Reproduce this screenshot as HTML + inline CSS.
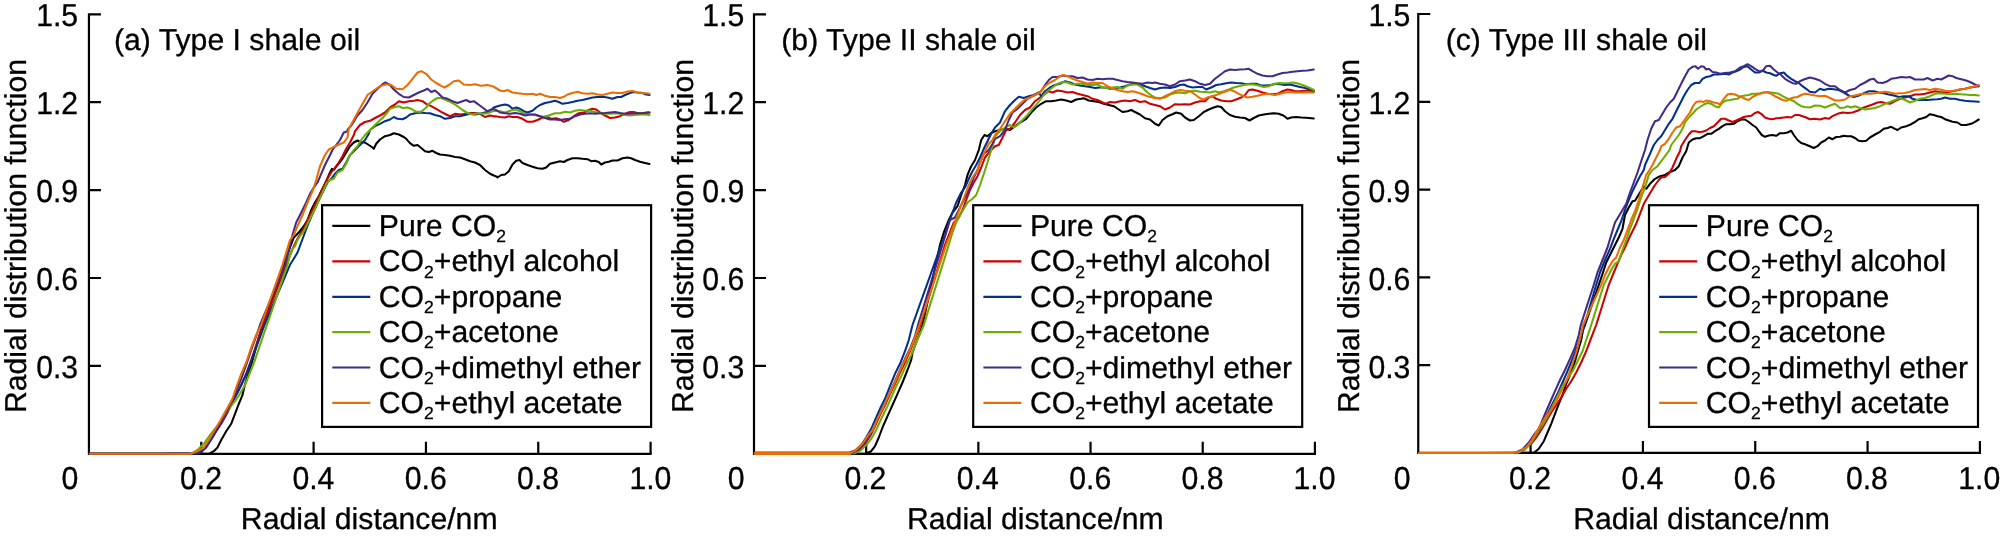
<!DOCTYPE html>
<html><head><meta charset="utf-8"><title>Radial distribution functions</title>
<style>html,body{margin:0;padding:0;background:#fff}svg{display:block;will-change:transform}text{font-family:"Liberation Sans",sans-serif;font-size:30.2px;fill:#000;stroke:#000;stroke-width:.3px;text-rendering:geometricPrecision}.ax{fill:none;stroke:#000;stroke-width:2.20}.cv{fill:none;stroke-width:2.05;stroke-linejoin:round;stroke-linecap:round}.lg{fill:#fff;stroke:#000;stroke-width:2.2}.sb{font-size:17.5px}</style></head><body>
<svg width="2000" height="539" viewBox="0 0 2000 539">
<rect width="2000" height="539" fill="#fff"/>
<g>
<path class="ax" d="M100.95 14.30 H88.95 V453.80 H651.70"/>
<path class="ax" d="M88.95 365.90 h12M88.95 278.00 h12M88.95 190.10 h12M88.95 102.20 h12M201.28 453.80 v-12M313.61 453.80 v-12M425.94 453.80 v-12M538.27 453.80 v-12M650.60 453.80 v-12"/>
<path class="cv" stroke="#000000" d="M89.8 453.8 160.0 453.8 208.8 453.8 213.8 451.2 217.5 447.5 221.2 440.0 226.2 431.2 231.2 423.8 235.0 413.8 238.8 403.8 242.5 395.0 244.5 386.2 247.5 376.2 251.2 365.0 255.0 351.2 258.8 337.5 262.5 325.0 290.0 247.5 293.8 237.5 298.8 232.5 303.8 226.2 307.5 220.0 311.2 210.0 315.0 202.5 318.8 196.2 322.5 188.8 326.2 181.2 330.0 172.5 332.0 168.8 333.8 170.0 337.5 165.0 342.5 158.8 346.2 152.5 350.0 146.2 353.8 142.5 357.5 140.5 361.2 142.5 365.0 142.5 368.8 145.0 372.5 147.5 373.8 148.8 376.2 143.8 380.0 139.5 385.0 136.2 390.0 135.0 393.8 133.2 398.8 134.5 403.8 137.0 406.2 138.8 410.0 143.2 413.8 145.8 417.5 145.0 421.2 148.0 425.0 151.2 428.8 152.0 432.5 150.8 436.2 153.0 440.0 154.5 445.0 155.0 450.0 155.8 455.0 157.0 460.0 157.5 465.0 159.2 470.0 161.2 475.0 162.5 480.0 165.0 485.0 170.0 490.0 173.8 493.8 175.5 497.5 177.0 497.5 177.5 501.2 175.0 505.0 174.5 508.8 171.2 512.5 164.5 516.2 160.8 519.5 160.0 522.5 163.0 527.5 165.0 532.5 166.8 537.5 168.2 542.5 168.8 546.2 167.5 550.0 163.8 555.0 162.5 560.0 161.2 563.8 162.0 567.5 160.0 572.5 158.2 577.5 158.2 582.5 158.8 587.5 159.2 591.2 161.2 595.0 160.8 598.8 162.0 601.2 164.5 605.0 162.5 608.8 161.8 612.5 160.5 617.5 160.5 622.5 158.2 627.5 157.5 631.2 158.2 635.0 160.0 640.0 161.8 645.0 163.0 649.5 164.0"/>
<path class="cv" stroke="#cc0000" d="M89.8 453.8 160.0 453.8 192.5 453.8 197.5 453.0 205.0 447.5 211.2 438.8 216.2 431.2 221.2 423.8 226.2 415.0 231.2 405.0 236.2 395.0 241.2 385.0 246.2 373.8 251.2 360.0 256.2 345.0 260.0 333.8 263.2 325.0 286.2 264.8 290.0 255.0 293.8 246.2 297.5 238.8 301.2 232.5 305.0 226.2 308.8 217.5 312.5 210.0 316.2 202.5 320.0 193.8 323.8 186.2 327.5 178.8 331.2 172.5 335.0 167.5 338.8 162.5 342.5 156.2 346.2 148.8 350.0 142.5 353.8 135.0 355.0 131.2 360.0 125.0 365.0 122.0 370.0 120.8 375.0 118.0 380.0 115.5 385.0 112.5 390.0 107.5 395.0 104.5 398.8 101.2 403.8 102.5 408.8 101.2 413.8 100.8 417.5 100.0 422.5 101.2 426.2 103.8 431.2 106.2 436.2 108.8 441.2 111.8 446.2 114.5 450.0 116.2 455.0 113.8 460.0 114.5 466.2 113.8 471.2 113.0 476.2 113.0 480.0 113.8 485.0 117.0 490.0 115.5 495.0 116.5 495.0 116.2 500.0 117.0 505.0 117.5 508.8 116.2 512.5 117.0 517.5 117.0 522.5 118.8 527.5 121.8 532.5 121.8 537.5 120.0 542.5 117.5 546.2 116.2 551.2 118.8 556.2 118.2 560.0 119.5 563.8 121.8 568.8 120.0 573.8 116.2 578.8 113.2 583.8 112.5 588.8 110.0 592.5 108.8 596.2 109.5 600.0 112.5 605.0 115.5 610.0 118.0 615.0 117.5 620.0 116.2 625.0 113.8 630.0 112.0 633.8 112.0 637.5 113.2 642.5 113.2 646.2 112.5 649.5 112.5"/>
<path class="cv" stroke="#00308c" d="M89.8 453.8 160.0 453.8 195.0 453.8 200.0 453.0 206.2 447.5 212.5 437.5 217.5 428.8 222.5 420.0 227.5 411.2 232.5 401.2 237.5 392.5 242.5 382.5 247.5 371.2 252.5 357.5 257.5 343.8 261.2 333.8 264.5 325.0 290.0 264.8 293.8 258.8 297.5 252.5 301.2 242.5 305.0 232.5 308.8 222.5 312.5 213.8 316.2 206.2 320.0 197.5 323.8 190.0 327.5 182.5 331.2 178.8 335.0 173.8 338.8 170.0 342.5 168.8 346.2 162.5 350.0 155.0 353.8 151.2 357.5 147.5 361.2 143.8 365.0 140.0 368.8 133.8 370.0 130.0 375.0 126.2 380.0 123.8 385.0 121.2 390.0 119.5 393.8 117.0 397.5 118.8 402.5 119.2 406.2 117.5 410.0 114.5 415.0 113.2 420.0 112.5 425.0 113.0 430.0 113.2 435.0 115.0 440.0 116.2 445.0 118.8 450.0 118.0 455.0 116.2 460.0 116.2 465.0 115.0 470.0 113.8 475.0 114.5 480.0 113.8 485.0 112.5 490.0 111.2 493.8 107.5 497.5 106.2 500.0 105.5 505.0 104.5 508.8 105.5 512.5 108.8 516.2 107.5 520.0 108.8 523.8 111.2 527.5 112.5 532.5 110.8 536.2 107.5 540.0 105.0 545.0 103.0 550.0 102.0 555.0 100.8 558.8 102.0 562.5 103.8 567.5 103.0 572.5 102.0 577.5 100.8 582.5 100.0 587.5 98.8 592.5 97.5 597.5 97.0 602.5 96.8 607.5 97.5 612.5 98.8 617.5 97.0 621.2 97.0 625.0 95.0 630.0 93.0 633.8 92.0 637.5 92.5 642.5 93.0 646.2 94.5 649.5 95.0"/>
<path class="cv" stroke="#6aae00" d="M89.8 453.8 160.0 453.8 191.2 453.8 197.5 450.0 203.8 443.8 210.0 435.0 216.2 427.5 222.5 418.8 228.8 408.8 235.0 401.2 240.0 393.8 245.0 385.0 250.0 372.5 255.0 360.0 260.0 345.0 263.8 333.8 267.0 325.0 287.5 264.8 290.0 255.0 292.5 248.8 295.0 246.2 297.5 240.0 300.0 236.2 303.8 231.2 307.5 223.8 311.2 216.2 315.0 208.8 318.8 200.0 322.5 192.5 326.2 183.8 330.0 180.0 333.8 178.8 337.5 172.5 342.5 170.0 346.2 163.8 350.0 155.0 353.8 150.0 357.5 146.2 361.2 140.0 365.0 135.0 368.8 131.2 372.5 127.5 377.5 122.5 382.5 118.0 386.2 113.8 390.0 108.8 395.0 107.0 398.8 106.2 402.5 108.0 407.5 107.5 411.2 108.8 416.2 111.8 421.2 111.8 426.2 107.5 430.0 103.0 433.8 100.0 437.5 98.0 441.2 98.0 445.0 99.5 448.8 101.2 452.5 103.0 457.5 106.2 462.5 110.0 467.5 113.0 472.5 114.5 477.5 113.2 482.5 113.8 487.5 113.2 492.5 111.2 496.2 110.8 500.0 111.2 505.0 112.5 510.0 110.8 515.0 109.5 520.0 111.2 525.0 113.8 530.0 114.5 535.0 115.0 540.0 116.2 545.0 117.0 550.0 115.0 555.0 113.2 560.0 113.2 565.0 111.8 570.0 112.5 575.0 110.8 580.0 110.0 585.0 110.8 590.0 110.8 595.0 112.0 600.0 113.2 605.0 113.8 610.0 113.8 615.0 113.2 620.0 113.8 625.0 115.0 630.0 115.5 635.0 115.0 640.0 114.5 645.0 114.5 649.5 115.0"/>
<path class="cv" stroke="#432a86" d="M89.8 453.8 160.0 453.8 177.5 453.2 192.5 453.2 200.0 451.2 206.2 446.2 211.2 437.5 216.2 430.0 221.2 421.2 226.2 412.5 231.2 402.5 236.2 391.2 241.2 378.8 246.2 365.0 251.2 350.0 256.2 336.2 260.0 325.0 285.0 264.8 288.8 250.0 292.5 235.0 296.2 222.5 298.8 217.5 302.5 210.0 306.2 202.5 310.0 193.8 313.8 187.5 317.5 182.5 321.2 173.8 325.0 165.0 328.8 157.5 332.5 150.0 336.2 145.0 340.0 140.0 343.8 132.5 347.5 131.2 347.5 130.0 352.5 123.8 357.5 115.5 362.5 110.0 367.5 102.5 372.5 93.8 377.5 88.8 382.5 84.2 385.5 82.5 390.0 85.0 393.8 89.5 398.8 93.8 403.8 97.0 408.8 97.5 413.8 95.0 418.8 92.5 423.8 90.5 427.5 88.8 431.2 92.0 435.0 90.5 438.8 93.8 442.5 97.5 447.5 98.8 452.5 101.2 457.5 103.0 462.5 101.2 466.2 100.0 470.0 102.0 473.8 101.2 477.5 103.8 482.5 107.5 487.5 111.2 492.5 108.8 496.2 110.0 500.0 112.5 505.0 113.2 510.0 113.8 515.0 113.0 520.0 113.8 525.0 115.5 530.0 114.5 535.0 114.5 540.0 116.2 545.0 118.0 550.0 119.5 555.0 119.5 560.0 120.0 565.0 119.2 570.0 118.8 575.0 116.2 580.0 114.5 585.0 113.8 590.0 113.2 595.0 113.8 600.0 113.2 605.0 113.0 610.0 112.5 615.0 112.0 620.0 113.0 625.0 113.8 630.0 113.8 635.0 113.2 640.0 113.2 645.0 113.0 649.5 112.5"/>
<path class="cv" stroke="#eb6c00" d="M89.8 453.8 160.0 453.8 190.0 453.8 197.5 451.2 203.8 447.5 208.8 440.0 213.8 431.2 220.0 421.2 226.2 410.0 232.5 398.8 236.2 387.5 241.2 373.8 246.2 362.5 251.2 347.5 256.2 335.0 261.2 325.0 282.5 264.8 286.2 252.5 290.0 240.0 293.8 235.0 297.5 226.2 302.5 215.0 307.5 202.5 312.5 191.2 316.2 180.0 320.0 166.2 325.0 155.0 328.8 149.5 333.8 147.0 338.8 144.5 343.8 142.5 347.5 137.5 348.8 128.8 355.0 117.5 361.2 106.2 367.5 95.0 373.8 90.5 380.0 86.2 386.2 84.2 391.2 85.0 396.2 88.8 402.5 89.2 407.5 85.0 412.5 78.8 417.5 72.5 421.2 71.2 426.2 73.8 431.2 79.5 436.2 83.0 441.2 85.8 444.5 87.5 448.8 85.0 453.8 81.2 458.8 80.5 463.8 84.5 470.0 85.0 475.0 84.2 481.2 85.8 487.5 85.0 492.5 86.2 495.0 87.5 500.0 90.5 503.8 91.2 507.5 90.0 512.5 92.5 517.5 93.2 522.5 93.8 527.5 94.2 532.5 93.8 536.2 95.0 540.0 93.8 545.0 95.8 550.0 97.0 555.0 97.0 560.0 98.0 563.8 96.8 567.5 94.5 572.5 93.0 577.5 91.8 582.5 93.2 587.5 93.8 592.5 93.2 597.5 94.5 602.5 95.0 607.5 93.8 612.5 92.5 617.5 93.0 622.5 93.0 627.5 91.5 632.5 91.0 637.5 92.5 642.5 93.0 646.2 93.2 649.5 93.8"/>
<text transform="translate(78.1,377.5) scale(1,1.05)" text-anchor="end">0.3</text>
<text transform="translate(78.1,289.6) scale(1,1.05)" text-anchor="end">0.6</text>
<text transform="translate(78.1,201.7) scale(1,1.05)" text-anchor="end">0.9</text>
<text transform="translate(78.1,113.8) scale(1,1.05)" text-anchor="end">1.2</text>
<text transform="translate(78.1,25.9) scale(1,1.05)" text-anchor="end">1.5</text>
<text transform="translate(69.9,489.0) scale(1,1.05)" text-anchor="middle">0</text>
<text transform="translate(201.0,489.0) scale(1,1.05)" text-anchor="middle">0.2</text>
<text transform="translate(313.4,489.0) scale(1,1.05)" text-anchor="middle">0.4</text>
<text transform="translate(425.7,489.0) scale(1,1.05)" text-anchor="middle">0.6</text>
<text transform="translate(538.1,489.0) scale(1,1.05)" text-anchor="middle">0.8</text>
<text transform="translate(650.4,489.0) scale(1,1.05)" text-anchor="middle">1.0</text>
<text x="369.2" y="529.0" text-anchor="middle">Radial distance/nm</text>
<text transform="translate(26.3,236.0) rotate(-90)" text-anchor="middle">Radial distribution function</text>
<text x="114.0" y="49.6">(a) Type I shale oil</text>
<rect class="lg" x="322.1" y="205.2" width="329.0" height="221.7"/>
<path d="M332.3 225.9 h38" stroke="#000000" stroke-width="2.2"/>
<text x="378.8" y="235.9">Pure CO<tspan class="sb" dy="6.3">2</tspan><tspan dy="-6.3"></tspan></text>
<path d="M332.3 261.3 h38" stroke="#cc0000" stroke-width="2.2"/>
<text x="378.8" y="271.3">CO<tspan class="sb" dy="6.3">2</tspan><tspan dy="-6.3">+ethyl alcohol</tspan></text>
<path d="M332.3 296.8 h38" stroke="#00308c" stroke-width="2.2"/>
<text x="378.8" y="306.8">CO<tspan class="sb" dy="6.3">2</tspan><tspan dy="-6.3">+propane</tspan></text>
<path d="M332.3 332.1 h38" stroke="#6aae00" stroke-width="2.2"/>
<text x="378.8" y="342.1">CO<tspan class="sb" dy="6.3">2</tspan><tspan dy="-6.3">+acetone</tspan></text>
<path d="M332.3 367.5 h38" stroke="#432a86" stroke-width="2.2"/>
<text x="378.8" y="377.5">CO<tspan class="sb" dy="6.3">2</tspan><tspan dy="-6.3">+dimethyl ether</tspan></text>
<path d="M332.3 402.9 h38" stroke="#eb6c00" stroke-width="2.2"/>
<text x="378.8" y="412.9">CO<tspan class="sb" dy="6.3">2</tspan><tspan dy="-6.3">+ethyl acetate</tspan></text>
</g>
<g>
<path class="ax" d="M766.00 14.30 H754.00 V453.80 H1316.00"/>
<path class="ax" d="M754.00 365.90 h12M754.00 278.00 h12M754.00 190.10 h12M754.00 102.20 h12M866.18 453.80 v-12M978.36 453.80 v-12M1090.54 453.80 v-12M1202.72 453.80 v-12M1314.90 453.80 v-12"/>
<path class="cv" stroke="#000000" d="M754.8 453.8 825.0 453.8 866.2 453.5 871.2 451.2 875.0 446.2 878.8 437.5 882.5 427.5 887.5 416.2 892.5 405.0 897.5 393.8 902.5 382.5 907.5 370.0 911.2 360.0 912.5 352.5 916.2 342.5 920.0 332.5 922.5 325.0 940.0 244.8 943.8 232.5 948.8 220.0 952.5 212.5 957.5 206.2 961.2 195.0 965.0 185.0 967.5 175.0 971.2 166.2 975.0 160.0 978.8 150.0 981.2 140.0 984.5 135.0 987.5 136.2 991.2 133.0 995.0 131.2 1000.0 130.0 1005.0 128.8 1010.0 130.0 1015.0 126.2 1020.0 122.5 1026.2 118.8 1031.2 112.5 1036.2 107.5 1041.2 103.8 1046.2 101.2 1051.2 101.2 1056.2 100.5 1061.2 99.5 1066.2 100.5 1071.2 102.0 1076.2 99.5 1081.2 98.8 1083.8 98.2 1088.8 100.5 1093.8 101.2 1098.8 102.0 1103.8 103.8 1108.8 105.0 1113.8 106.2 1118.8 109.5 1122.5 112.0 1127.5 111.2 1131.2 110.0 1135.0 112.0 1140.0 114.5 1145.0 118.2 1150.0 119.5 1155.0 123.8 1155.0 123.8 1158.8 125.5 1162.5 120.0 1167.5 116.2 1172.5 114.2 1176.2 112.5 1181.2 113.8 1185.0 117.5 1190.0 120.5 1193.8 120.0 1198.8 116.2 1203.8 112.0 1208.8 109.5 1213.8 107.5 1217.5 106.2 1221.2 107.0 1225.0 111.2 1230.0 115.0 1235.0 116.8 1240.0 117.5 1245.0 118.0 1249.5 120.5 1253.8 118.0 1258.8 115.5 1263.8 114.5 1268.8 113.8 1273.8 113.2 1278.8 113.8 1283.8 115.8 1287.5 118.8 1291.2 117.5 1296.2 117.0 1301.2 117.5 1306.2 117.8 1313.8 118.5"/>
<path class="cv" stroke="#cc0000" d="M754.8 453.8 825.0 453.2 852.5 452.8 860.0 448.8 865.0 443.8 870.0 436.2 875.0 426.2 880.0 415.0 885.0 405.0 890.0 393.8 895.0 383.8 900.0 372.5 905.0 362.5 910.0 351.2 915.0 338.8 918.8 328.8 920.5 325.0 945.0 244.8 948.8 235.0 953.8 222.5 958.8 217.5 962.5 210.0 966.2 200.0 970.0 190.0 973.8 182.5 977.5 176.2 981.2 167.5 985.0 157.5 990.0 151.2 993.8 147.5 995.0 146.2 998.8 145.0 1002.5 137.5 1006.2 130.0 1010.0 128.8 1015.0 122.5 1020.0 115.0 1025.0 110.0 1030.0 107.5 1035.0 101.2 1040.0 97.5 1045.0 93.8 1048.8 91.2 1052.5 92.5 1057.5 90.5 1062.5 91.2 1067.5 92.5 1072.5 92.0 1077.5 93.8 1082.5 95.0 1087.5 96.2 1092.5 98.8 1097.5 100.0 1102.5 102.5 1106.2 103.8 1110.0 102.0 1115.0 102.5 1120.0 101.2 1125.0 100.5 1130.0 101.2 1135.0 100.0 1140.0 102.0 1145.0 101.2 1150.0 103.8 1155.0 105.0 1155.0 105.0 1160.0 106.2 1165.0 109.5 1170.0 107.5 1175.0 104.2 1180.0 104.5 1185.0 104.2 1190.0 104.5 1195.0 102.5 1200.0 101.2 1205.0 101.2 1208.8 97.5 1212.5 96.2 1216.2 98.8 1221.2 100.5 1226.2 101.2 1231.2 101.2 1236.2 99.5 1241.2 97.5 1245.0 95.0 1248.8 90.0 1252.5 89.5 1257.5 90.8 1262.5 92.5 1267.5 93.8 1272.5 94.2 1277.5 93.8 1282.5 91.2 1287.5 89.5 1291.2 90.0 1295.0 91.2 1300.0 91.2 1305.0 90.8 1310.0 90.8 1313.8 91.2"/>
<path class="cv" stroke="#00308c" d="M754.8 453.8 825.0 453.5 848.8 452.8 855.0 450.5 861.2 445.0 866.2 437.5 871.2 428.8 876.2 417.5 880.0 408.8 885.0 398.8 890.0 386.2 895.0 373.8 900.0 363.8 905.0 351.2 908.8 340.0 912.5 325.0 941.2 244.8 945.0 235.0 948.8 222.5 952.5 212.5 956.2 202.5 961.2 192.5 965.0 187.5 968.8 178.8 972.5 171.2 976.2 165.0 980.0 157.5 983.8 148.8 987.5 141.2 991.2 133.8 995.0 127.5 1000.0 122.5 1005.0 111.2 1010.0 105.0 1015.0 100.0 1018.8 96.8 1023.8 98.0 1028.8 96.2 1033.8 95.0 1038.8 92.5 1041.2 96.2 1045.0 91.2 1050.0 87.5 1055.0 85.0 1060.0 83.8 1065.0 81.2 1070.0 82.5 1075.0 84.5 1080.0 85.5 1085.0 86.2 1090.0 87.0 1095.0 88.0 1100.0 87.5 1105.0 87.5 1110.0 88.8 1115.0 88.0 1120.0 87.5 1125.0 86.2 1130.0 84.5 1135.0 83.8 1140.0 84.5 1145.0 86.2 1150.0 88.0 1155.0 89.5 1155.0 89.5 1160.0 88.0 1165.0 87.5 1170.0 88.0 1175.0 87.0 1180.0 85.0 1183.8 84.5 1187.5 86.2 1192.5 87.5 1197.5 87.0 1202.5 87.0 1206.2 89.5 1211.2 87.5 1216.2 85.0 1221.2 84.2 1226.2 83.2 1231.2 82.5 1236.2 83.0 1241.2 83.2 1246.2 84.2 1251.2 83.8 1256.2 83.8 1261.2 85.5 1266.2 85.5 1271.2 85.0 1275.0 83.8 1280.0 84.2 1285.0 85.0 1290.0 84.5 1295.0 85.8 1300.0 87.0 1305.0 88.0 1310.0 89.5 1313.8 90.8"/>
<path class="cv" stroke="#6aae00" d="M754.8 453.8 825.0 453.5 855.0 453.2 861.2 450.0 866.2 445.0 871.2 438.8 876.2 430.0 881.2 418.8 886.2 408.8 891.2 397.5 896.2 386.2 901.2 376.2 906.2 365.0 911.2 355.0 916.2 342.5 921.2 331.2 923.8 325.0 948.8 244.8 952.5 232.5 956.2 222.5 960.0 215.0 963.8 208.8 967.5 202.5 972.5 198.8 976.2 195.0 980.0 185.0 983.8 173.8 987.5 162.5 991.2 150.0 993.8 142.5 995.0 136.2 1000.0 131.2 1005.0 127.5 1010.0 125.0 1013.8 127.5 1017.5 125.0 1022.5 120.0 1027.5 115.0 1032.5 108.8 1036.2 105.0 1040.0 100.0 1043.8 95.0 1047.5 91.2 1052.5 87.5 1057.5 83.8 1062.5 82.0 1067.5 82.5 1072.5 84.5 1077.5 83.8 1082.5 83.8 1087.5 85.0 1092.5 85.0 1097.5 84.5 1102.5 87.5 1107.5 88.0 1112.5 87.5 1117.5 87.0 1122.5 88.8 1127.5 85.5 1132.5 84.5 1137.5 84.5 1142.5 87.5 1147.5 92.5 1152.5 96.2 1155.0 97.5 1160.0 98.2 1165.0 97.5 1170.0 94.5 1175.0 93.0 1180.0 92.5 1185.0 93.2 1190.0 91.2 1195.0 90.8 1200.0 91.8 1205.0 92.0 1210.0 92.5 1215.0 91.2 1218.8 92.5 1223.8 91.2 1228.8 89.5 1233.8 87.5 1238.8 86.2 1243.8 85.0 1248.8 84.2 1253.8 84.5 1258.8 85.5 1263.8 87.0 1268.8 86.2 1273.8 84.2 1278.8 83.0 1283.8 83.2 1288.8 83.0 1293.8 82.5 1298.8 83.8 1303.8 85.5 1308.8 87.5 1313.8 90.0"/>
<path class="cv" stroke="#432a86" d="M754.8 453.8 825.0 453.5 852.5 452.8 858.8 449.5 865.0 442.5 870.0 435.0 875.0 425.0 880.0 413.8 885.0 403.8 890.0 392.5 895.0 381.2 900.0 370.0 905.0 358.8 910.0 348.8 915.0 336.2 918.0 325.0 942.5 244.8 946.2 232.5 950.0 220.0 955.0 217.5 958.8 210.0 962.5 202.5 966.2 195.0 970.0 187.5 973.8 177.5 977.5 170.0 980.0 162.5 983.8 153.8 988.8 150.0 992.5 143.8 995.0 138.8 1000.0 136.2 1005.0 130.0 1008.8 120.0 1012.5 112.5 1017.5 108.8 1022.5 103.8 1027.5 98.8 1032.5 96.2 1037.5 93.8 1041.2 91.2 1045.0 85.0 1048.8 80.0 1052.5 77.0 1057.5 77.0 1062.5 75.5 1067.5 76.2 1072.5 76.2 1077.5 78.0 1082.5 77.5 1087.5 79.5 1092.5 80.0 1097.5 78.8 1102.5 79.2 1107.5 78.8 1112.5 78.8 1117.5 80.0 1122.5 81.2 1127.5 82.0 1132.5 82.5 1137.5 83.2 1142.5 83.8 1147.5 82.5 1152.5 83.0 1155.0 82.5 1160.0 83.8 1165.0 84.5 1170.0 86.2 1175.0 84.5 1180.0 81.2 1185.0 80.5 1190.0 79.5 1195.0 81.2 1200.0 83.8 1205.0 85.0 1210.0 83.8 1215.0 78.8 1220.0 75.0 1225.0 71.2 1230.0 69.5 1235.0 70.0 1240.0 69.5 1245.0 69.2 1248.8 68.8 1252.5 71.2 1257.5 73.8 1262.5 75.5 1267.5 76.2 1272.5 76.2 1277.5 74.5 1282.5 73.0 1287.5 72.5 1292.5 71.8 1297.5 71.2 1302.5 70.8 1307.5 70.5 1313.8 69.5"/>
<path class="cv" stroke="#eb6c00" d="M754.8 453.8 825.0 453.5 850.0 453.2 856.2 450.0 862.5 443.8 867.5 436.2 872.5 430.0 877.5 418.8 882.5 408.8 887.5 397.5 892.5 387.5 897.5 376.2 902.5 365.0 907.5 355.0 912.5 343.8 916.2 333.8 919.5 325.0 946.2 244.8 950.0 235.0 953.8 225.0 957.5 215.0 961.2 205.0 965.0 195.0 968.8 185.0 972.5 177.5 977.5 170.0 981.2 160.0 985.0 151.2 988.8 143.8 992.5 140.0 995.0 135.0 1000.0 128.8 1005.0 121.2 1010.0 113.8 1015.0 108.8 1020.0 103.8 1025.0 99.5 1030.0 97.5 1035.0 95.0 1040.0 92.5 1045.0 86.2 1050.0 82.5 1055.0 80.0 1060.0 76.2 1063.8 75.0 1067.5 76.2 1072.5 78.8 1077.5 80.5 1082.5 82.0 1087.5 83.8 1092.5 82.5 1097.5 83.0 1102.5 83.0 1107.5 86.2 1112.5 88.8 1117.5 90.0 1122.5 91.2 1127.5 92.0 1132.5 91.2 1137.5 92.5 1142.5 94.2 1147.5 96.2 1152.5 97.5 1155.0 98.2 1160.0 98.8 1165.0 96.2 1170.0 93.8 1175.0 91.2 1180.0 90.0 1185.0 90.8 1190.0 91.2 1195.0 94.5 1200.0 98.2 1203.8 99.5 1207.5 97.5 1212.5 96.2 1217.5 94.5 1222.5 92.5 1227.5 90.8 1230.0 89.5 1233.8 91.2 1238.8 93.8 1243.8 96.2 1247.5 97.5 1252.5 96.8 1257.5 95.8 1262.5 94.5 1267.5 93.8 1271.2 94.2 1275.0 95.0 1280.0 93.8 1285.0 92.5 1290.0 92.0 1295.0 92.5 1300.0 92.5 1305.0 92.5 1310.0 92.5 1313.8 92.5"/>
<path d="M755.8 453.1 H850" stroke="#eb6c00" stroke-width="3.6" stroke-linecap="round"/>
<text transform="translate(744.3,377.5) scale(1,1.05)" text-anchor="end">0.3</text>
<text transform="translate(744.3,289.6) scale(1,1.05)" text-anchor="end">0.6</text>
<text transform="translate(744.3,201.7) scale(1,1.05)" text-anchor="end">0.9</text>
<text transform="translate(744.3,113.8) scale(1,1.05)" text-anchor="end">1.2</text>
<text transform="translate(744.3,25.9) scale(1,1.05)" text-anchor="end">1.5</text>
<text transform="translate(736.1,489.0) scale(1,1.05)" text-anchor="middle">0</text>
<text transform="translate(865.4,489.0) scale(1,1.05)" text-anchor="middle">0.2</text>
<text transform="translate(977.8,489.0) scale(1,1.05)" text-anchor="middle">0.4</text>
<text transform="translate(1090.2,489.0) scale(1,1.05)" text-anchor="middle">0.6</text>
<text transform="translate(1202.5,489.0) scale(1,1.05)" text-anchor="middle">0.8</text>
<text transform="translate(1314.5,489.0) scale(1,1.05)" text-anchor="middle">1.0</text>
<text x="1035.4" y="529.0" text-anchor="middle">Radial distance/nm</text>
<text transform="translate(692.5,236.0) rotate(-90)" text-anchor="middle">Radial distribution function</text>
<text x="781.3" y="49.6">(b) Type II shale oil</text>
<rect class="lg" x="973.2" y="205.2" width="329.0" height="221.7"/>
<path d="M983.4 225.9 h38" stroke="#000000" stroke-width="2.2"/>
<text x="1029.9" y="235.9">Pure CO<tspan class="sb" dy="6.3">2</tspan><tspan dy="-6.3"></tspan></text>
<path d="M983.4 261.3 h38" stroke="#cc0000" stroke-width="2.2"/>
<text x="1029.9" y="271.3">CO<tspan class="sb" dy="6.3">2</tspan><tspan dy="-6.3">+ethyl alcohol</tspan></text>
<path d="M983.4 296.8 h38" stroke="#00308c" stroke-width="2.2"/>
<text x="1029.9" y="306.8">CO<tspan class="sb" dy="6.3">2</tspan><tspan dy="-6.3">+propane</tspan></text>
<path d="M983.4 332.1 h38" stroke="#6aae00" stroke-width="2.2"/>
<text x="1029.9" y="342.1">CO<tspan class="sb" dy="6.3">2</tspan><tspan dy="-6.3">+acetone</tspan></text>
<path d="M983.4 367.5 h38" stroke="#432a86" stroke-width="2.2"/>
<text x="1029.9" y="377.5">CO<tspan class="sb" dy="6.3">2</tspan><tspan dy="-6.3">+dimethyl ether</tspan></text>
<path d="M983.4 402.9 h38" stroke="#eb6c00" stroke-width="2.2"/>
<text x="1029.9" y="412.9">CO<tspan class="sb" dy="6.3">2</tspan><tspan dy="-6.3">+ethyl acetate</tspan></text>
</g>
<g>
<path class="ax" d="M1430.25 14.00 H1418.25 V452.90 H1981.00"/>
<path class="ax" d="M1418.25 365.12 h12M1418.25 277.34 h12M1418.25 189.56 h12M1418.25 101.78 h12M1530.58 452.90 v-12M1642.91 452.90 v-12M1755.24 452.90 v-12M1867.57 452.90 v-12M1979.90 452.90 v-12"/>
<path class="cv" stroke="#000000" d="M1419.0 452.9 1480.0 452.9 1533.8 452.8 1538.8 448.8 1543.8 441.2 1547.5 432.5 1551.2 423.8 1555.0 413.8 1558.8 403.8 1562.5 395.0 1566.2 383.8 1570.0 375.0 1573.8 365.0 1577.5 352.5 1581.2 340.0 1583.0 330.0 1585.0 325.0 1598.8 284.8 1602.5 273.8 1606.2 262.5 1611.2 252.5 1615.0 245.0 1618.8 237.5 1622.5 228.8 1625.0 215.0 1628.8 207.5 1632.5 201.2 1635.0 200.8 1636.2 198.8 1640.0 192.5 1643.8 186.2 1646.2 188.8 1650.0 183.8 1655.0 178.8 1660.0 176.2 1665.0 175.0 1670.0 172.0 1675.0 170.0 1678.8 166.2 1682.5 157.5 1686.2 151.2 1688.8 142.5 1692.5 139.5 1696.2 138.2 1700.0 138.2 1703.8 136.2 1707.5 133.8 1711.2 133.8 1715.0 131.2 1718.8 128.8 1722.5 126.2 1726.2 124.2 1730.0 124.2 1733.8 123.8 1737.5 121.2 1741.2 119.5 1745.0 119.5 1748.8 122.0 1752.5 125.0 1756.2 127.5 1758.8 131.2 1761.8 135.0 1765.0 136.8 1768.8 135.5 1772.5 135.0 1776.2 135.8 1780.0 133.2 1783.8 133.2 1787.5 132.5 1791.2 130.8 1793.8 135.0 1797.5 140.0 1801.2 143.0 1805.0 144.2 1809.8 146.2 1813.8 148.0 1817.5 146.2 1821.2 142.5 1825.0 140.5 1828.8 137.5 1832.5 139.2 1836.2 137.0 1840.0 136.8 1843.8 135.8 1847.5 136.2 1851.2 136.2 1855.0 138.0 1858.8 140.8 1862.5 141.2 1866.2 140.8 1870.0 137.5 1875.0 134.5 1880.0 131.8 1883.8 128.8 1887.5 128.0 1891.2 126.8 1895.0 128.8 1897.5 130.0 1901.2 127.5 1906.2 126.2 1911.2 124.2 1915.0 122.0 1918.8 119.2 1922.5 118.2 1926.2 117.0 1930.0 114.2 1933.8 115.0 1937.5 116.2 1941.2 117.0 1945.0 119.2 1948.8 120.5 1952.5 121.8 1957.5 122.5 1961.2 125.0 1966.2 125.0 1971.2 123.8 1975.0 121.8 1978.8 119.5"/>
<path class="cv" stroke="#cc0000" d="M1419.0 452.9 1480.0 452.9 1517.5 452.8 1525.0 448.8 1531.2 443.8 1536.2 437.5 1541.2 430.0 1546.2 421.2 1551.2 412.5 1556.2 405.0 1561.2 397.5 1566.2 388.8 1571.2 381.2 1576.2 372.5 1581.2 362.5 1586.2 351.2 1590.0 341.2 1593.8 331.2 1596.2 325.0 1608.8 284.8 1613.8 272.5 1617.5 263.8 1621.2 255.0 1625.0 247.5 1628.8 238.8 1632.5 231.2 1636.2 223.8 1640.0 213.8 1643.8 203.8 1647.5 197.5 1651.2 191.2 1655.0 185.0 1658.8 180.0 1661.2 177.5 1665.0 177.0 1668.8 173.8 1672.5 167.5 1676.2 158.8 1680.0 151.2 1681.2 146.2 1685.0 140.0 1688.8 134.5 1691.8 131.2 1695.0 131.2 1698.8 132.0 1702.5 131.8 1706.2 130.5 1710.0 128.0 1713.8 126.2 1717.5 122.5 1721.2 118.8 1725.0 118.8 1728.8 120.5 1732.5 122.0 1736.2 120.5 1740.0 118.8 1743.8 117.0 1747.5 116.2 1751.2 115.8 1755.0 113.0 1758.0 112.0 1761.2 113.8 1765.0 117.5 1768.8 118.8 1772.5 119.2 1776.2 118.2 1780.0 118.0 1783.8 117.5 1787.5 117.0 1791.2 117.5 1795.0 115.0 1798.8 115.0 1802.5 116.2 1806.2 117.5 1809.8 119.2 1815.0 118.8 1820.0 119.5 1825.0 118.0 1828.8 118.8 1832.5 116.2 1837.5 113.8 1842.5 112.5 1847.5 113.0 1852.5 112.5 1857.5 110.8 1862.5 108.0 1867.5 106.2 1872.5 104.5 1877.5 102.5 1881.2 102.0 1885.0 103.0 1890.0 103.8 1895.0 101.2 1900.0 98.8 1905.0 97.5 1910.0 96.2 1915.0 94.5 1920.0 94.5 1925.0 93.8 1930.0 92.5 1935.0 91.2 1940.0 92.0 1945.0 92.5 1950.0 91.8 1955.0 90.8 1960.0 89.5 1965.0 88.8 1970.0 87.5 1975.0 86.8 1978.8 86.2"/>
<path class="cv" stroke="#00308c" d="M1419.0 452.9 1480.0 452.9 1516.2 452.8 1523.8 450.0 1530.0 443.8 1535.0 436.2 1540.0 428.8 1543.8 421.2 1547.5 413.8 1552.5 403.8 1557.5 393.8 1562.5 382.5 1567.5 371.2 1572.5 358.8 1577.5 346.2 1581.2 335.0 1584.5 325.0 1596.2 284.8 1600.0 272.5 1605.0 260.0 1610.0 248.8 1613.8 238.8 1617.5 230.0 1621.2 221.2 1625.0 210.0 1628.8 200.0 1632.5 191.2 1636.2 183.8 1640.0 176.2 1643.8 170.0 1645.0 165.0 1650.0 153.8 1653.8 145.0 1657.5 140.0 1661.2 136.2 1665.0 130.0 1668.8 123.8 1672.5 118.8 1676.2 111.2 1680.0 103.8 1683.8 96.2 1687.5 90.0 1691.2 85.0 1695.0 83.0 1699.5 83.0 1702.5 78.8 1706.2 77.0 1710.0 76.2 1713.8 74.5 1717.5 74.5 1721.2 74.2 1725.0 73.8 1728.8 74.5 1732.5 72.5 1736.2 71.2 1740.0 69.5 1743.8 67.0 1747.5 66.2 1751.2 69.5 1755.0 72.5 1758.8 72.5 1762.5 70.5 1766.2 72.5 1770.0 73.2 1773.8 75.0 1776.2 75.8 1780.0 73.2 1783.8 72.5 1787.5 76.2 1791.2 78.8 1795.0 81.2 1798.8 83.0 1802.5 86.2 1806.2 88.8 1809.8 91.8 1815.0 92.5 1820.0 88.8 1823.8 90.0 1828.8 88.8 1833.8 89.2 1838.8 90.0 1843.8 92.5 1848.8 95.5 1853.8 97.0 1858.8 95.5 1863.8 93.2 1868.8 91.2 1873.8 91.2 1878.8 92.5 1883.8 93.2 1888.8 94.5 1893.8 95.5 1898.8 97.0 1903.8 96.2 1908.8 96.2 1912.5 98.8 1917.5 100.0 1922.5 100.0 1927.5 100.0 1932.5 99.5 1937.5 99.2 1941.2 98.8 1945.0 97.5 1950.0 98.8 1955.0 98.8 1960.0 100.0 1965.0 100.8 1970.0 101.2 1975.0 101.5 1978.8 101.8"/>
<path class="cv" stroke="#6aae00" d="M1419.0 452.9 1480.0 452.9 1517.5 452.8 1525.0 449.5 1531.2 442.5 1537.5 432.5 1542.5 425.0 1547.5 416.2 1552.5 406.2 1557.5 396.2 1562.5 386.2 1567.5 378.8 1572.5 371.2 1577.5 361.2 1582.5 351.2 1586.2 340.0 1590.0 328.8 1591.2 325.0 1603.8 284.8 1607.5 277.5 1611.2 270.0 1615.0 263.8 1618.8 261.2 1622.5 250.0 1626.2 240.0 1630.0 228.8 1633.8 218.8 1637.5 208.8 1641.2 197.5 1645.0 187.5 1648.8 175.0 1652.5 170.0 1657.5 166.2 1661.2 161.2 1665.0 156.2 1669.5 150.0 1671.2 145.0 1675.0 140.0 1678.8 135.0 1682.5 128.8 1685.0 122.5 1688.8 117.5 1692.5 113.8 1696.2 109.5 1700.0 107.0 1703.8 104.5 1707.5 103.0 1711.2 103.8 1715.0 106.2 1718.8 107.5 1722.5 102.5 1726.2 100.5 1730.0 100.0 1733.8 99.2 1737.5 98.8 1741.2 96.2 1745.0 95.5 1748.8 95.0 1752.5 93.8 1756.2 93.8 1760.0 93.2 1763.8 92.5 1767.5 92.0 1771.2 92.5 1775.0 93.0 1778.8 93.8 1782.5 96.2 1786.2 98.0 1790.0 99.5 1793.8 101.2 1797.5 103.8 1801.2 106.2 1805.0 107.0 1809.8 107.5 1815.0 105.5 1820.0 105.8 1825.0 107.5 1830.0 105.5 1835.0 103.8 1840.0 108.0 1845.0 107.5 1847.5 106.2 1851.2 107.5 1855.0 106.2 1860.0 108.0 1865.0 109.5 1870.0 108.8 1875.0 108.0 1880.0 106.2 1885.0 103.8 1890.0 102.0 1895.0 100.0 1900.0 98.0 1905.0 100.0 1910.0 102.5 1915.0 100.8 1920.0 98.8 1925.0 98.0 1930.0 96.2 1935.0 93.8 1940.0 93.2 1945.0 93.8 1950.0 94.2 1955.0 93.8 1960.0 94.2 1965.0 94.5 1970.0 95.0 1975.0 95.0 1978.8 95.5"/>
<path class="cv" stroke="#432a86" d="M1419.0 452.9 1480.0 452.9 1515.0 452.8 1522.5 449.5 1528.8 442.5 1533.8 435.0 1538.8 428.8 1542.5 420.0 1546.2 411.2 1550.0 402.5 1555.0 391.2 1560.0 380.0 1565.0 370.0 1570.0 358.8 1575.0 347.5 1578.8 335.0 1580.8 325.0 1593.8 284.8 1597.5 272.5 1602.5 260.0 1607.5 247.5 1611.2 235.0 1615.0 222.5 1618.8 216.2 1622.5 210.0 1626.2 203.8 1630.0 192.5 1633.8 182.5 1637.5 172.5 1641.2 161.2 1645.0 150.0 1647.5 140.0 1651.2 128.8 1655.0 121.2 1658.8 120.0 1662.5 113.8 1666.2 107.5 1670.0 102.5 1673.8 98.8 1677.5 91.2 1681.2 83.8 1685.0 76.2 1688.8 69.5 1692.5 66.8 1695.5 66.2 1698.0 68.8 1701.2 66.2 1703.8 66.8 1706.2 69.5 1708.8 68.8 1712.5 72.0 1716.2 72.5 1720.0 73.8 1725.0 73.0 1730.0 72.5 1735.0 71.2 1740.0 67.5 1743.8 66.2 1747.5 64.2 1751.2 66.2 1755.0 68.8 1758.8 71.2 1762.5 71.2 1766.2 66.2 1770.0 65.8 1773.8 69.5 1777.5 72.5 1781.2 75.0 1785.0 78.8 1788.8 81.2 1792.5 83.2 1796.2 83.8 1800.0 81.2 1803.8 79.5 1809.8 77.5 1815.0 78.8 1820.0 80.5 1825.0 83.8 1830.0 86.2 1835.0 86.2 1840.0 90.0 1845.0 92.5 1850.0 90.0 1855.0 88.8 1860.0 85.0 1865.0 82.5 1870.0 79.5 1873.8 78.8 1877.5 82.5 1882.5 83.0 1887.5 81.2 1891.2 78.8 1896.2 78.0 1901.2 77.0 1906.2 77.5 1910.0 77.0 1915.0 79.5 1920.0 79.5 1923.8 79.5 1927.5 78.0 1932.5 80.5 1937.5 78.8 1941.2 79.5 1945.0 77.5 1948.8 75.5 1952.5 76.2 1956.2 78.0 1961.2 79.2 1966.2 80.5 1971.2 82.5 1975.0 84.5 1978.8 86.2"/>
<path class="cv" stroke="#eb6c00" d="M1419.0 452.9 1480.0 452.9 1512.5 452.9 1520.0 451.2 1526.2 447.5 1531.2 441.2 1536.2 432.5 1541.2 423.8 1546.2 416.2 1551.2 410.0 1556.2 401.2 1561.2 391.2 1566.2 381.2 1571.2 367.5 1576.2 352.5 1580.0 338.8 1583.0 325.0 1601.2 284.8 1605.0 275.0 1608.8 267.5 1612.5 261.2 1616.2 257.5 1620.0 247.5 1623.8 240.0 1627.5 230.0 1631.2 220.0 1635.0 211.2 1638.8 200.0 1642.5 187.5 1646.2 175.0 1648.8 171.2 1652.5 165.0 1656.2 157.5 1660.0 150.0 1661.2 146.2 1665.0 143.8 1668.8 138.8 1672.5 132.5 1676.2 127.5 1680.0 126.2 1683.8 121.2 1686.2 117.5 1690.0 112.5 1693.0 106.2 1696.2 102.0 1700.0 101.2 1703.8 102.0 1706.2 100.5 1710.0 101.2 1713.8 102.5 1717.5 103.2 1720.0 104.5 1723.8 98.8 1727.5 94.5 1731.2 93.8 1735.0 94.5 1738.8 96.2 1742.5 97.5 1746.2 99.2 1748.8 100.0 1752.5 97.0 1756.2 95.0 1760.0 93.8 1763.8 92.5 1767.5 92.5 1771.2 93.8 1775.0 96.2 1778.8 98.0 1782.5 100.0 1786.2 100.8 1790.0 98.8 1793.8 97.5 1797.5 97.0 1801.2 95.0 1805.0 93.8 1809.8 94.5 1815.0 95.5 1820.0 96.2 1825.0 95.8 1830.0 98.0 1835.0 100.5 1840.0 100.5 1845.0 99.5 1850.0 96.2 1855.0 95.5 1860.0 94.2 1865.0 93.8 1870.0 93.8 1875.0 93.2 1880.0 92.5 1885.0 91.8 1890.0 92.5 1895.0 93.8 1900.0 93.2 1905.0 93.0 1910.0 91.8 1915.0 90.0 1920.0 89.5 1925.0 89.0 1930.0 90.0 1935.0 88.8 1940.0 89.5 1945.0 90.8 1950.0 91.2 1955.0 90.5 1960.0 89.5 1965.0 88.8 1970.0 87.5 1975.0 86.2 1978.8 85.0"/>
<text transform="translate(1410.4,377.5) scale(1,1.05)" text-anchor="end">0.3</text>
<text transform="translate(1410.4,289.6) scale(1,1.05)" text-anchor="end">0.6</text>
<text transform="translate(1410.4,201.7) scale(1,1.05)" text-anchor="end">0.9</text>
<text transform="translate(1410.4,113.8) scale(1,1.05)" text-anchor="end">1.2</text>
<text transform="translate(1410.4,25.9) scale(1,1.05)" text-anchor="end">1.5</text>
<text transform="translate(1402.2,489.0) scale(1,1.05)" text-anchor="middle">0</text>
<text transform="translate(1530.1,489.0) scale(1,1.05)" text-anchor="middle">0.2</text>
<text transform="translate(1642.5,489.0) scale(1,1.05)" text-anchor="middle">0.4</text>
<text transform="translate(1754.8,489.0) scale(1,1.05)" text-anchor="middle">0.6</text>
<text transform="translate(1866.9,489.0) scale(1,1.05)" text-anchor="middle">0.8</text>
<text transform="translate(1979.2,489.0) scale(1,1.05)" text-anchor="middle">1.0</text>
<text x="1701.5" y="529.0" text-anchor="middle">Radial distance/nm</text>
<text transform="translate(1358.6,236.0) rotate(-90)" text-anchor="middle">Radial distribution function</text>
<text x="1445.7" y="49.6">(c) Type III shale oil</text>
<rect class="lg" x="1649.0" y="205.2" width="329.0" height="221.7"/>
<path d="M1659.2 225.9 h38" stroke="#000000" stroke-width="2.2"/>
<text x="1705.8" y="235.9">Pure CO<tspan class="sb" dy="6.3">2</tspan><tspan dy="-6.3"></tspan></text>
<path d="M1659.2 261.3 h38" stroke="#cc0000" stroke-width="2.2"/>
<text x="1705.8" y="271.3">CO<tspan class="sb" dy="6.3">2</tspan><tspan dy="-6.3">+ethyl alcohol</tspan></text>
<path d="M1659.2 296.8 h38" stroke="#00308c" stroke-width="2.2"/>
<text x="1705.8" y="306.8">CO<tspan class="sb" dy="6.3">2</tspan><tspan dy="-6.3">+propane</tspan></text>
<path d="M1659.2 332.1 h38" stroke="#6aae00" stroke-width="2.2"/>
<text x="1705.8" y="342.1">CO<tspan class="sb" dy="6.3">2</tspan><tspan dy="-6.3">+acetone</tspan></text>
<path d="M1659.2 367.5 h38" stroke="#432a86" stroke-width="2.2"/>
<text x="1705.8" y="377.5">CO<tspan class="sb" dy="6.3">2</tspan><tspan dy="-6.3">+dimethyl ether</tspan></text>
<path d="M1659.2 402.9 h38" stroke="#eb6c00" stroke-width="2.2"/>
<text x="1705.8" y="412.9">CO<tspan class="sb" dy="6.3">2</tspan><tspan dy="-6.3">+ethyl acetate</tspan></text>
</g>
</svg></body></html>
